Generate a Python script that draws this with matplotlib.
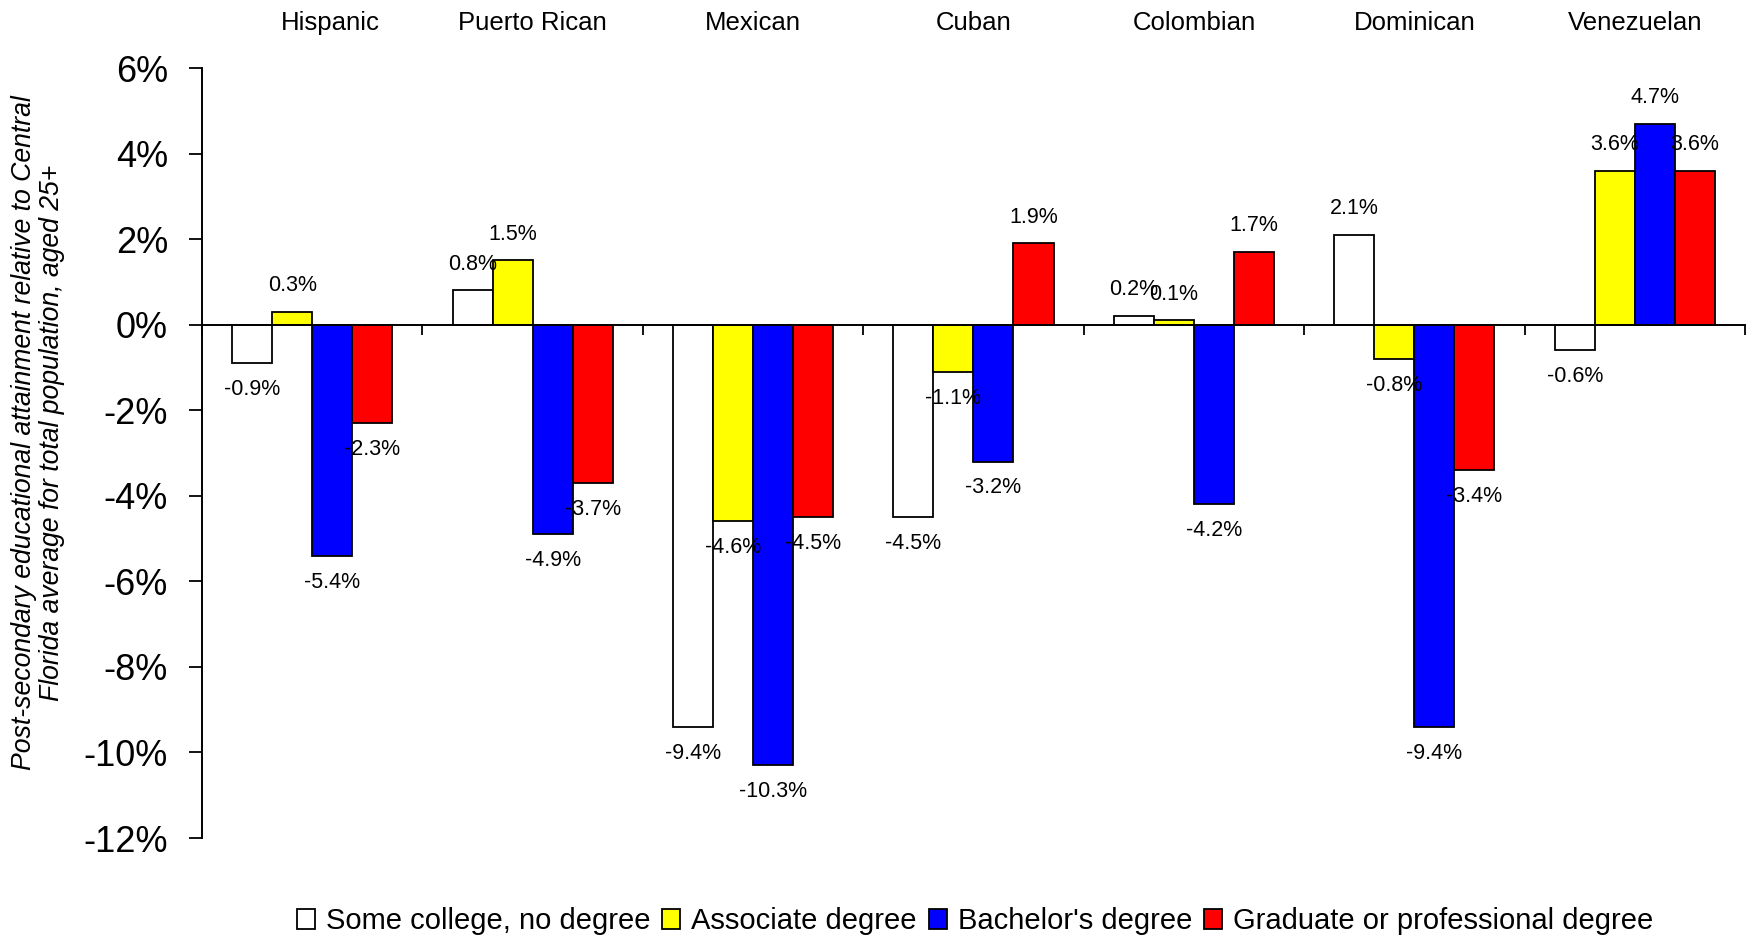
import matplotlib
matplotlib.use('Agg')
import matplotlib.pyplot as plt
import numpy as np
from matplotlib.patches import Patch

# ---- data ----
categories = ['Hispanic', 'Puerto Rican', 'Mexican', 'Cuban', 'Colombian', 'Dominican', 'Venezuelan']
series_names = ['Some college, no degree', 'Associate degree', "Bachelor's degree",
                'Graduate or professional degree']
some_college = [-0.9, 0.8, -9.4, -4.5, 0.2, 2.1, -0.6]
associate = [0.3, 1.5, -4.6, -1.1, 0.1, -0.8, 3.6]
bachelor = [-5.4, -4.9, -10.3, -3.2, -4.2, -9.4, 4.7]
graduate = [-2.3, -3.7, -4.5, 1.9, 1.7, -3.4, 3.6]
ytick_values = [6, 4, 2, 0, -2, -4, -6, -8, -10, -12]
ylabel_text = ('Post-secondary educational attainment relative to Central\n'
               'Florida average for total population, aged 25+')

series = [some_college, associate, bachelor, graduate]
colors = ['#FFFFFF', '#FFFF00', '#0000FF', '#FF0000']

plt.rcParams['font.family'] = ['Liberation Sans', 'DejaVu Sans']

W, H = 1753, 938
fig = plt.figure(figsize=(W / 100, H / 100), dpi=100)
ax = fig.add_axes([202 / W, 1 - 838 / H, (1745 - 202) / W, (838 - 68) / H])

n = len(categories)
x = np.arange(n)
bw = 40 / (1543 / 7)  # bar width in category units
offsets = (np.arange(4) - 1.5) * bw

for s, (vals, col, name) in enumerate(zip(series, colors, series_names)):
    xs = x + offsets[s]
    ax.bar(xs, vals, width=bw, color=col, edgecolor='black', linewidth=1.3,
           label=name, zorder=2)
    for xi, v in zip(xs, vals):
        off = 19 if v >= 0 else -19
        ax.annotate(f'{v:.1f}%', xy=(xi, v), xytext=(0, off), textcoords='offset points',
                    ha='center', va='center', fontsize=15.5, zorder=5)

ax.set_xlim(-0.5, n - 0.5)
ax.set_ylim(-12, 6)

# spines
for sp in ['top', 'right']:
    ax.spines[sp].set_visible(False)
ax.spines['left'].set_linewidth(1.4)
ax.spines['bottom'].set_position(('data', 0))
ax.spines['bottom'].set_linewidth(1.4)
ax.spines['bottom'].set_zorder(3)

# x ticks at category boundaries, no labels
ax.set_xticks(np.arange(n + 1) - 0.5)
ax.set_xticklabels([])
ax.tick_params(axis='x', direction='out', length=7, width=1.3)

ax.set_yticks(ytick_values)
ax.set_yticklabels([f'{v}%' for v in ytick_values], fontsize=26)
ax.tick_params(axis='y', direction='out', length=9.5, width=1.3, pad=15)

# category labels on top
trans = matplotlib.transforms.blended_transform_factory(ax.transData, fig.transFigure)
for i, c in enumerate(categories):
    dx = 0.08 if i == 0 else 0.0
    ax.text(i + dx, 1 - 30 / H, c, transform=trans,
            ha='center', va='baseline', fontsize=18.5)

# y label
fig.text(38 / W, 1 - 433 / H, ylabel_text, rotation=90, ha='center', va='center',
         fontsize=19.2, style='italic', multialignment='center', linespacing=1.12)

handles = [Patch(facecolor=c, edgecolor='black', linewidth=1.3) for c in colors]
fig.legend(handles, series_names, loc='center', bbox_to_anchor=(975 / W, 1 - 921 / H),
           ncol=4, frameon=False, fontsize=21, handlelength=0.62, handleheight=0.7,
           handletextpad=0.38, columnspacing=0.4, borderpad=0, borderaxespad=0)

fig.savefig('out.png', dpi=100)
